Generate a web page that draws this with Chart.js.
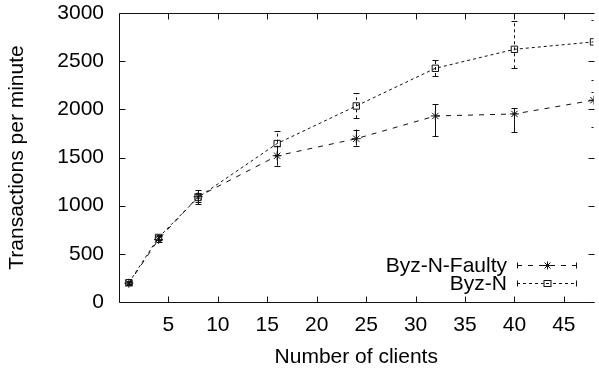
<!DOCTYPE html>
<html>
<head>
<meta charset="utf-8">
<script src="https://cdn.jsdelivr.net/npm/chart.js@4.4.0/dist/chart.umd.min.js"></script>
<style>
html,body{margin:0;padding:0;background:#fff;}
#wrap{width:599px;height:369px;}
</style>
</head>
<body>
<div id="wrap"><canvas id="c" width="599" height="369"></canvas></div>
<script>
// ---- data ----
const clients = [1, 4, 8, 16, 24, 32, 40, 48];
const faultyMean  = [195, 650, 1093, 1518, 1695, 1931, 1952, 2095];
const faultyLow   = [180, 625, 1017, 1415, 1623, 1723, 1762, 1820];
const faultyHigh  = [210, 680, 1163, 1620, 1790, 2052, 2011, 2180];
const byzMean     = [200, 670, 1085, 1645, 2035, 2426, 2623, 2700];
const byzLow      = [185, 640, 1040, 1530, 1907, 2346, 2426, 2305];
const byzHigh     = [215, 700, 1130, 1770, 2167, 2512, 2920, 2930];
const xTicks = [5, 10, 15, 20, 25, 30, 35, 40, 45];
const yTicks = [0, 500, 1000, 1500, 2000, 2500, 3000];
const seriesNames = ['Byz-N-Faulty', 'Byz-N'];
const xTitle = 'Number of clients';
const yTitle = 'Transactions per minute';

const FONT = '"Liberation Sans", Arial, Helvetica, sans-serif';
const FS = 21;
const INK = '#111';

function pts(ys){ return clients.map((x,i)=>({x:x, y:ys[i]})); }

const errPlugin = {
  id: 'errbars',
  afterDatasetsDraw(chart){
    const {ctx, chartArea:a, scales:{x, y}} = chart;
    const sets = [
      {lo: faultyLow, hi: faultyHigh, dash: []},
      {lo: byzLow, hi: byzHigh, dash: [3,3]}
    ];
    ctx.save();
    ctx.beginPath(); ctx.rect(a.left, a.top, a.right-a.left, a.bottom-a.top); ctx.clip();
    ctx.strokeStyle = INK; ctx.lineWidth = 1;
    sets.forEach(s=>{
      clients.forEach((cx,i)=>{
        const px = Math.round(x.getPixelForValue(cx)) + 0.5;
        const y1 = y.getPixelForValue(s.lo[i]);
        const y2 = y.getPixelForValue(s.hi[i]);
        ctx.setLineDash(s.dash);
        ctx.beginPath(); ctx.moveTo(px, y1); ctx.lineTo(px, y2); ctx.stroke();
        ctx.setLineDash([]);
        ctx.beginPath();
        ctx.moveTo(px-3, Math.round(y1)+0.5); ctx.lineTo(px+3, Math.round(y1)+0.5);
        ctx.moveTo(px-3, Math.round(y2)+0.5); ctx.lineTo(px+3, Math.round(y2)+0.5);
        ctx.stroke();
      });
    });
    ctx.restore();
  }
};

const framePlugin = {
  id: 'frame',
  afterDraw(chart){
    const {ctx, chartArea:a, scales:{x, y}} = chart;
    ctx.save();
    ctx.strokeStyle = INK; ctx.lineWidth = 1; ctx.setLineDash([]);
    const L = Math.round(a.left)+0.5, R = Math.round(a.right)-0.5, T = Math.round(a.top)+0.5, B = Math.round(a.bottom)+0.5;
    ctx.beginPath();
    ctx.moveTo(R, T); ctx.lineTo(L, T); ctx.lineTo(L, B); ctx.lineTo(R+1, B);
    ctx.stroke();
    ctx.beginPath();
    yTicks.forEach(v=>{
      const py = Math.round(y.getPixelForValue(v))+0.5;
      ctx.moveTo(L, py); ctx.lineTo(L+6, py);
      ctx.moveTo(R+1, py); ctx.lineTo(R-5, py);
    });
    xTicks.forEach(v=>{
      const px = Math.round(x.getPixelForValue(v))+0.5;
      ctx.moveTo(px, B); ctx.lineTo(px, B-6);
      ctx.moveTo(px, T); ctx.lineTo(px, T+6);
    });
    ctx.stroke();

    // legend
    ctx.font = FS + 'px ' + FONT;
    ctx.fillStyle = '#000';
    ctx.textAlign = 'right'; ctx.textBaseline = 'middle';
    const rows = [
      {y: 265, dash: [5,6], style: 'star'},
      {y: 283, dash: [3,3], style: 'rect'}
    ];
    rows.forEach((r, i)=>{
      ctx.fillText(seriesNames[i], 507, r.y + 1);
      const ly = r.y + 0.5;
      ctx.setLineDash(r.dash);
      ctx.beginPath(); ctx.moveTo(517, ly); ctx.lineTo(577, ly); ctx.stroke();
      ctx.setLineDash([]);
      ctx.beginPath();
      ctx.moveTo(517.5, ly-3); ctx.lineTo(517.5, ly+3);
      ctx.moveTo(576.5, ly-3); ctx.lineTo(576.5, ly+3);
      ctx.stroke();
      const mx = 547.5;
      ctx.fillStyle = '#fff';
      if (r.style === 'rect') {
        ctx.fillRect(mx-4, ly-3.5, 8, 7);
        ctx.strokeRect(mx-3.5, ly-3, 7, 6);
        ctx.beginPath(); ctx.moveTo(mx-1.5, ly); ctx.lineTo(mx+1.5, ly); ctx.stroke();
      } else {
        ctx.beginPath();
        ctx.moveTo(mx-4, ly); ctx.lineTo(mx+4, ly);
        ctx.moveTo(mx, ly-4); ctx.lineTo(mx, ly+4);
        ctx.moveTo(mx-3, ly-3); ctx.lineTo(mx+3, ly+3);
        ctx.moveTo(mx-3, ly+3); ctx.lineTo(mx+3, ly-3);
        ctx.stroke();
      }
      ctx.fillStyle = '#000';
    });
    ctx.restore();
  }
};

new Chart(document.getElementById('c'), {
  type: 'line',
  data: {
    datasets: [
      {
        label: seriesNames[0],
        data: pts(faultyMean),
        borderColor: INK, borderWidth: 1, borderDash: [5,6],
        pointStyle: 'star', pointRadius: 4.5, pointBorderColor: INK, pointBorderWidth: 1,
        pointBackgroundColor: 'rgba(0,0,0,0)', fill: false, tension: 0
      },
      {
        label: seriesNames[1],
        data: pts(byzMean),
        borderColor: INK, borderWidth: 1, borderDash: [3,3],
        pointStyle: 'rect', pointRadius: 4.5, pointBorderColor: INK, pointBorderWidth: 1,
        pointBackgroundColor: 'rgba(255,255,255,0)', fill: false, tension: 0
      }
    ]
  },
  options: {
    responsive: false,
    animation: false,
    devicePixelRatio: 1,
    layout: { padding: { top: 13, right: 0, left: 0, bottom: 0 } },
    plugins: { legend: { display: false }, tooltip: { enabled: false } },
    scales: {
      x: {
        type: 'linear', min: 0, max: 48,
        afterBuildTicks(s){ s.ticks = xTicks.map(v=>({value:v})); },
        afterFit(s){ s.height = 67; s.paddingLeft = 0; s.paddingRight = 0; },
        grid: { display: false, drawTicks: false }, border: { display: false },
        ticks: { color: '#000', font: { family: FONT, size: FS }, padding: 11, maxRotation: 0, autoSkip: false,
                 callback: v => String(v) },
        title: { display: true, text: xTitle, color: '#000', font: { family: FONT, size: FS, lineHeight: 1.0 }, padding: { top: 0, bottom: 1 } }
      },
      y: {
        type: 'linear', min: 0, max: 3000,
        afterBuildTicks(s){ s.ticks = yTicks.map(v=>({value:v})); },
        afterFit(s){ s.width = 119; s.paddingTop = 0; s.paddingBottom = 0; },
        grid: { display: false, drawTicks: false }, border: { display: false },
        ticks: { color: '#000', font: { family: FONT, size: FS }, padding: 15, autoSkip: false,
                 callback: v => String(v) },
        title: { display: true, text: yTitle, color: '#000', font: { family: FONT, size: FS, lineHeight: 1.2 }, padding: { top: 5, bottom: 0 } }
      }
    }
  },
  plugins: [errPlugin, framePlugin]
});
</script>
</body>
</html>
